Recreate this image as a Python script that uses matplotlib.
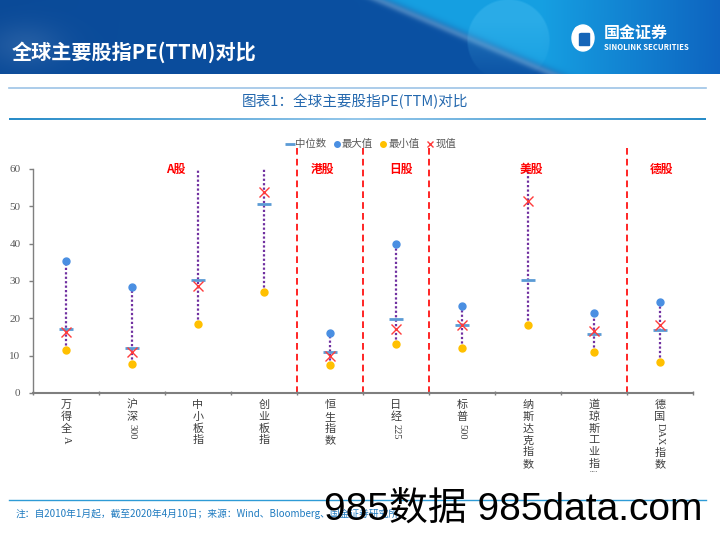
import matplotlib
matplotlib.use('Agg')
import matplotlib.pyplot as plt
import numpy as np
from matplotlib.lines import Line2D
from matplotlib.patches import Ellipse, Rectangle
from matplotlib.transforms import Bbox, TransformedBbox

plt.rcParams['font.family'] = ['Noto Sans CJK SC', 'DejaVu Sans']

# ---------------- data ----------------
categories = ['万得全A', '沪深300', '中小板指', '创业板指', '恒生指数', '日经225',
              '标普500', '纳斯达克指数', '道琼斯工业指数', '德国DAX指数']
pe_max = [35.3, 28.3, 75.0, 140.0, 16.1, 39.9, 23.4, 70.0, 21.5, 24.5]
pe_min = [11.4, 7.9, 18.5, 27.1, 7.6, 13.2, 12.1, 18.1, 10.9, 8.3]
pe_median = [17.2, 12.1, 30.4, 50.5, 10.9, 19.7, 18.1, 30.4, 15.7, 16.9]
pe_current = [16.3, 11.0, 28.7, 53.9, 9.8, 17.2, 18.3, 51.4, 16.5, 18.3]
y_ticks = [0, 10, 20, 30, 40, 50, 60]
groups = ['A股', '港股', '日股', '美股', '德股']
legend_labels = ['中位数', '最大值', '最小值', '现值']

# layout (positions, not data)
group_label_x = [1.67, 3.89, 5.08, 7.05, 9.03]
group_bounds = [3.5, 4.5, 5.5, 8.5]

W, H = 720, 540
fig = plt.figure(figsize=(7.2, 5.4), dpi=100)

def fx(px):
    return px / W

def fy(py):
    return 1 - py / H

# ---------------- header banner ----------------
hh = 74
hax = fig.add_axes([0, fy(hh), 1, hh / H])
xs, ys = np.meshgrid(np.arange(W), np.arange(hh))
dark = np.array([10, 74, 152]) / 255
mid = np.array([11, 86, 170]) / 255
cyan = np.array([22, 160, 226]) / 255
blue_r = np.array([14, 100, 192]) / 255
t0 = (xs / W)[..., None]
img = dark * (1 - t0) + mid * t0
d = xs - (387 + ys * 2.35)
w = 1 / (1 + np.exp(-d / 5.0))
s = np.clip((xs - 540) / 180.0, 0, 1)[..., None]
right = cyan * (1 - s) + blue_r * s
img = img * (1 - w[..., None]) + right * w[..., None]
band = 0.22 * np.exp(-((d + 8) / 9.0) ** 2)
img = img + band[..., None] * (1 - img)
blob = 0.10 * np.exp(-((xs - 25) ** 2 / 1500.0 + (ys - 45) ** 2 / 500.0))
img = img + blob[..., None] * (1 - img)
r = np.sqrt((xs - 508) ** 2 + (ys - 40) ** 2)
cw = np.clip((42 - r) / 2.0, 0, 1) * 0.30 * np.clip((60 - ys) / 60.0 + 0.3, 0, 1)
light = np.array([90, 200, 245]) / 255
img = img * (1 - cw[..., None]) + light * cw[..., None]
hax.imshow(np.clip(img, 0, 1), extent=[0, W, hh, 0], aspect='auto')
hax.add_patch(Ellipse((583, 38), 22, 26, color='white'))
hax.add_patch(Rectangle((579, 33), 10, 12, color='#1565B8'))
hax.add_patch(Ellipse((578, 30), 6, 6, color='white'))
hax.set_xlim(0, W)
hax.set_ylim(hh, 0)
hax.axis('off')

fig.text(fx(12), fy(52), '全球主要股指PE(TTM)对比', color='white',
         fontsize=14.5, fontweight='bold', va='center', ha='left')
fig.text(fx(604), fy(33), '国金证券', color='white', fontsize=11.5,
         fontweight='bold', va='center', ha='left')
fig.text(fx(604), fy(47), 'SINOLINK SECURITIES', color='white', fontsize=5.6,
         fontweight='bold', va='center', ha='left')

# thin light line under header
fig.add_artist(Line2D([fx(9), fx(706)], [fy(88), fy(88)], color='#9DC3E6', lw=1.2))

# chart title
fig.text(fx(355), fy(102), '图表1：全球主要股指PE(TTM)对比', color='#2468AE',
         fontsize=10.5, ha='center', va='center')

# gradient line under the title
gax = fig.add_axes([fx(9), fy(120.5), fx(697), 3 / H])
g = np.linspace(0, 1, 400)
c1 = np.array([150, 200, 235]) / 255
c2 = np.array([40, 140, 200]) / 255
gimg = np.array([[c1 * (1 - abs(2 * v - 1)) + c2 * abs(2 * v - 1) for v in g]])
gax.imshow(gimg, aspect='auto', extent=[0, 1, 0, 1])
gax.axis('off')

# bottom line and footnote
fig.add_artist(Line2D([fx(9), fx(706)], [fy(500), fy(500)], color='#2E9BD6', lw=1.0))
fig.text(fx(16), fy(514), '注：自2010年1月起，截至2020年4月10日；来源：Wind、Bloomberg、国金证券研究所',
         color='#1F7BC0', fontsize=7, ha='left', va='center', style='italic')
fig.text(fx(513), fy(510), '985数据 985data.com', color='black', fontsize=28,
         ha='center', va='center', family=['Liberation Sans', 'Noto Sans CJK SC'])

# ---------------- main axes ----------------
ax = fig.add_axes([fx(33), fy(393), fx(660), 224 / H])
x = np.arange(len(categories))

ax.vlines(x, pe_min, pe_max, colors='#7030A0', linestyles=(0, (1, 1)), lw=1.6, zorder=2)
ax.plot(x, pe_max, 'o', ls='', color='#4A8FE2', ms=5, zorder=3)
ax.plot(x, pe_min, 'o', ls='', color='#FFC000', ms=5, zorder=3)
ax.plot(x, pe_median, '_', ls='', color='#5B9BD5', ms=10, mew=2, zorder=4)
ax.plot(x, pe_current, 'x', ls='', color='#FF3B3B', ms=6.5, mew=1.0, zorder=5)

ax.vlines(group_bounds, 0, 65.6, colors='#FF0000', linestyles=(0, (4, 2.5)),
          lw=1.2, clip_on=False, zorder=1)
for gx, gname in zip(group_label_x, groups):
    ax.text(gx, 60, gname, color='#FF0000', fontsize=8.5, fontweight='bold',
            ha='center', va='center', clip_on=False)

ax.set_xlim(-0.5, len(categories) - 0.5)
ax.set_ylim(0, 60)
ax.set_yticks(y_ticks)
ax.set_yticklabels([str(v) for v in y_ticks], family=['Liberation Serif', 'DejaVu Serif'])
ax.tick_params(axis='y', labelsize=8, labelcolor='#595959', color='#7F7F7F',
               length=3, width=1, direction='out', pad=6)
ax.set_xticks(np.arange(-0.5, len(categories), 1.0))
ax.set_xticklabels([''] * (len(categories) + 1))
ax.tick_params(axis='x', color='#7F7F7F', length=3, width=1, direction='inout')
for sp in ['top', 'right']:
    ax.spines[sp].set_visible(False)
ax.spines['left'].set_color('#7F7F7F')
ax.spines['left'].set_linewidth(1.0)
ax.spines['bottom'].set_color('#7F7F7F')
ax.spines['bottom'].set_linewidth(1.5)

# vertical category labels (CJK upright, ASCII runs rotated), clipped at chart frame
clip = TransformedBbox(Bbox.from_extents(0, fy(472), 1, 1), fig.transFigure)
fs = 8
step = 8.5
afs = 7.5

def ascii_len(tk):
    tot = 0.0
    for c in tk:
        if c.isdigit():
            tot += 0.5
        elif c.isupper():
            tot += 0.68
        else:
            tot += 0.45
    return tot * afs

for i, lab in enumerate(categories):
    tokens = []
    buf = ''
    for ch in lab:
        if ord(ch) < 128:
            buf += ch
        else:
            if buf:
                tokens.append(buf)
                buf = ''
            tokens.append(ch)
    if buf:
        tokens.append(buf)
    off = 8.6 - step / 2
    for tk in tokens:
        if ord(tk[0]) < 128:
            h = ascii_len(tk)
            t = ax.annotate(tk, xy=(i, 0), xycoords=('data', 'axes fraction'),
                            xytext=(0, -(off + h / 2 + 1.0)), textcoords='offset points',
                            rotation=-90, ha='center', va='center', fontsize=afs,
                            color='#404040', family=['Liberation Serif', 'DejaVu Serif'],
                            annotation_clip=False)
            off += h + 2.0
        else:
            t = ax.annotate(tk, xy=(i, 0), xycoords=('data', 'axes fraction'),
                            xytext=(0, -(off + step / 2)), textcoords='offset points',
                            ha='center', va='center', fontsize=fs, color='#404040',
                            annotation_clip=False)
            off += step
        t.set_clip_box(clip)
        t.set_clip_on(True)

# legend
handles = [
    Line2D([], [], marker='_', ls='', color='#5B9BD5', ms=7, mew=2),
    Line2D([], [], marker='o', ls='', color='#4A8FE2', ms=4),
    Line2D([], [], marker='o', ls='', color='#FFC000', ms=4),
    Line2D([], [], marker='x', ls='', color='#FF3B3B', ms=5, mew=1),
]
fig.legend(handles, legend_labels, loc='center', bbox_to_anchor=(fx(371), fy(144)),
           ncol=4, frameon=False, fontsize=7.5, handletextpad=0.1,
           columnspacing=0.6, handlelength=0.8, labelcolor='#595959')

fig.savefig('out.png', dpi=100)
